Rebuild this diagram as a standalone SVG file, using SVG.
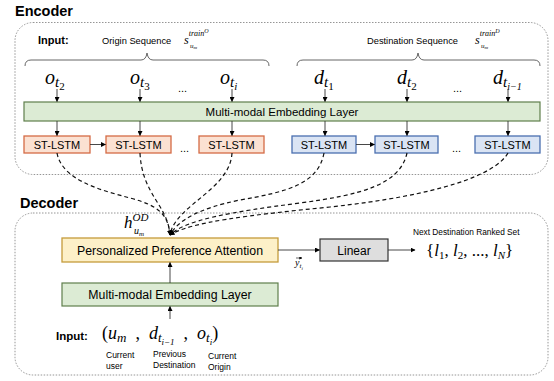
<svg xmlns="http://www.w3.org/2000/svg" width="554" height="381" viewBox="0 0 554 381">
<defs>
<marker id="ah" viewBox="0 0 10 10" refX="9" refY="5" markerWidth="5" markerHeight="5" orient="auto" markerUnits="userSpaceOnUse">
<path d="M0,0 L10,5 L0,10 Z" fill="#000"/>
</marker>
<marker id="vh" viewBox="0 0 10 10" refX="9" refY="5" markerWidth="3" markerHeight="3" orient="auto" markerUnits="userSpaceOnUse">
<path d="M0,0 L10,5 L0,10 Z" fill="#000"/>
</marker>
<style>
.t{font-family:"Liberation Sans",Arial,sans-serif;fill:#000}
.b{font-weight:bold}
.m{font-family:"Liberation Serif","Times New Roman",serif;font-style:italic;fill:#000}
.r{font-family:"Liberation Serif","Times New Roman",serif;font-style:normal;fill:#000}
.frame{fill:none;stroke:#8a8a8a;stroke-width:0.9;stroke-dasharray:1.5,1.5}
.emb{fill:#dcebd4;stroke:#5f7f4c;stroke-width:1.2}
.ol{fill:#fbe1d2;stroke:#d46b45;stroke-width:1.3}
.bl{fill:#dae4f4;stroke:#4a6fb0;stroke-width:1.3}
.att{fill:#fdf0c8;stroke:#c59b3b;stroke-width:1.3}
.lin{fill:#dedede;stroke:#333;stroke-width:1.2}
.ar{fill:none;stroke:#333;stroke-width:0.9;marker-end:url(#ah)}
.dc{fill:none;stroke:#111;stroke-width:1.2;stroke-dasharray:4,3;marker-end:url(#ah)}
.br{fill:none;stroke:#555;stroke-width:0.9}
</style>
</defs>

<text class="t b" x="15" y="16" font-size="14.5">Encoder</text>
<rect class="frame" x="15" y="22.5" width="533" height="152" rx="18"/>
<text class="t b" x="20" y="208" font-size="14.5">Decoder</text>
<rect class="frame" x="15" y="213" width="533" height="162" rx="18"/>

<g id="inputs-enc">
<text class="t b" x="38" y="44" font-size="11">Input:</text>
<text class="t" x="102" y="44" font-size="9.3">Origin Sequence</text>
<text class="m" x="184" y="44" font-size="12">s<tspan font-size="8" dy="-8">train</tspan><tspan font-size="6" dy="-3">O</tspan></text>
<text class="m" x="190" y="48" font-size="7">u<tspan font-size="5" dy="1">m</tspan></text>
<text class="t" x="367" y="44" font-size="9.3">Destination Sequence</text>
<text class="m" x="475" y="44" font-size="12">s<tspan font-size="8" dy="-8">train</tspan><tspan font-size="6" dy="-3">D</tspan></text>
<text class="m" x="481" y="48" font-size="7">u<tspan font-size="5" dy="1">m</tspan></text>
<path class="br" d="M25,66 Q25,60 31,60 L141,60 Q146,60 147,53 Q148,60 153,60 L263,60 Q269,60 269,66"/>
<path class="br" d="M297,66 Q297,60 303,60 L412,60 Q417,60 418,53 Q419,60 424,60 L534,60 Q540,60 540,66"/>
</g>

<g id="vars-enc">
<text class="m" x="45" y="84" font-size="20">o<tspan font-size="15" dy="3">t</tspan><tspan class="r" font-size="11" dy="3">2</tspan></text>
<text class="m" x="130" y="84" font-size="20">o<tspan font-size="15" dy="3">t</tspan><tspan class="r" font-size="11" dy="3">3</tspan></text>
<text class="t" x="178" y="92" font-size="11">...</text>
<text class="m" x="220" y="84" font-size="20">o<tspan font-size="15" dy="3">t</tspan><tspan font-size="11" dy="3">i</tspan></text>
<text class="m" x="314" y="84" font-size="20">d<tspan font-size="15" dy="3">t</tspan><tspan class="r" font-size="11" dy="3">1</tspan></text>
<text class="m" x="397" y="84" font-size="20">d<tspan font-size="15" dy="3">t</tspan><tspan class="r" font-size="11" dy="3">2</tspan></text>
<text class="t" x="453" y="92" font-size="11">...</text>
<text class="m" x="493" y="84" font-size="20">d<tspan font-size="15" dy="3">t</tspan><tspan font-size="10" dy="3">i−1</tspan></text>
</g>

<g id="emb-enc">
<rect class="emb" x="24" y="102" width="516" height="19"/>
<text class="t" x="282" y="116" font-size="11.5" text-anchor="middle">Multi-modal Embedding Layer</text>
</g>

<g id="lstm-o1"><rect class="ol" x="24" y="136" width="66" height="17"/><text class="t" x="57" y="148.5" font-size="11" text-anchor="middle">ST-LSTM</text></g>
<g id="lstm-o2"><rect class="ol" x="106" y="136" width="65" height="17"/><text class="t" x="138.5" y="148.5" font-size="11" text-anchor="middle">ST-LSTM</text></g>
<text class="t" x="180" y="152" font-size="11">...</text>
<g id="lstm-o3"><rect class="ol" x="199" y="136" width="65" height="17"/><text class="t" x="231.5" y="148.5" font-size="11" text-anchor="middle">ST-LSTM</text></g>
<g id="lstm-d1"><rect class="bl" x="292" y="136" width="64" height="17"/><text class="t" x="324" y="148.5" font-size="11" text-anchor="middle">ST-LSTM</text></g>
<g id="lstm-d2"><rect class="bl" x="375" y="136" width="63" height="17"/><text class="t" x="406.5" y="148.5" font-size="11" text-anchor="middle">ST-LSTM</text></g>
<text class="t" x="452" y="152" font-size="11">...</text>
<g id="lstm-d3"><rect class="bl" x="475" y="136" width="65" height="17"/><text class="t" x="507.5" y="148.5" font-size="11" text-anchor="middle">ST-LSTM</text></g>

<g id="attention">
<rect class="att" x="62" y="238" width="216" height="24"/>
<text class="t" x="170" y="254.5" font-size="12.3" text-anchor="middle">Personalized Preference Attention</text>
</g>
<g id="linear">
<rect class="lin" x="320" y="239" width="68" height="22"/>
<text class="t" x="354" y="254.5" font-size="12" text-anchor="middle">Linear</text>
</g>
<g id="output">
<text class="t" x="413" y="235" font-size="8.3">Next Destination Ranked Set</text>
<text class="r" x="426" y="256" font-size="17">{<tspan class="m">l</tspan><tspan font-size="11" dy="3">1</tspan><tspan dy="-3">, </tspan><tspan class="m">l</tspan><tspan font-size="11" dy="3">2</tspan><tspan dy="-3">, ..., </tspan><tspan class="m">l</tspan><tspan class="m" font-size="11" dy="3">N</tspan><tspan dy="-3">}</tspan></text>
</g>
<g id="emb-dec">
<rect class="emb" x="62" y="283" width="216" height="23"/>
<text class="t" x="170" y="299" font-size="12.3" text-anchor="middle">Multi-modal Embedding Layer</text>
</g>
<g id="inputs-dec">
<text class="t b" x="56" y="340" font-size="11.5">Input:</text>
<text class="r" x="102" y="339" font-size="18">(<tspan class="m">u</tspan><tspan class="m" font-size="13" dy="3">m</tspan><tspan dy="-3" xml:space="preserve">  ,  </tspan><tspan class="m">d</tspan><tspan class="m" font-size="13" dy="3">t</tspan><tspan class="m" font-size="9" dy="3">i−1</tspan><tspan dy="-6" xml:space="preserve">  ,  </tspan><tspan class="m">o</tspan><tspan class="m" font-size="13" dy="3">t</tspan><tspan class="m" font-size="9" dy="3">i</tspan><tspan dy="-6">)</tspan></text>
<text class="t" x="106" y="358" font-size="8.5">Current</text>
<text class="t" x="106" y="369" font-size="8.5">user</text>
<text class="t" x="153" y="357" font-size="8.5">Previous</text>
<text class="t" x="153" y="368" font-size="8.5">Destination</text>
<text class="t" x="208" y="359" font-size="8.5">Current</text>
<text class="t" x="208" y="370" font-size="8.5">Origin</text>
<text class="m" x="124" y="228" font-size="17">h<tspan font-size="11" dy="-7">OD</tspan></text>
<text class="m" x="134" y="234" font-size="10">u<tspan font-size="7" dy="1.5">m</tspan></text>
<text class="m" x="295" y="266" font-size="10">y<tspan font-size="7" dy="2">t</tspan><tspan font-size="5" dy="1.5">i</tspan></text>
<line x1="296" y1="258" x2="302" y2="258" stroke="#000" stroke-width="0.6" marker-end="url(#vh)"/>
</g>

<g id="connectors">
<line class="ar" x1="57" y1="89" x2="57" y2="101.5"/>
<line class="ar" x1="140" y1="89" x2="140" y2="101.5"/>
<line class="ar" x1="232" y1="89" x2="232" y2="101.5"/>
<line class="ar" x1="325" y1="89" x2="325" y2="101.5"/>
<line class="ar" x1="407" y1="89" x2="407" y2="101.5"/>
<line class="ar" x1="508" y1="89" x2="508" y2="101.5"/>
<line class="ar" x1="57" y1="121" x2="57" y2="135.5"/>
<line class="ar" x1="140" y1="121" x2="140" y2="135.5"/>
<line class="ar" x1="232" y1="121" x2="232" y2="135.5"/>
<line class="ar" x1="325" y1="121" x2="325" y2="135.5"/>
<line class="ar" x1="407" y1="121" x2="407" y2="135.5"/>
<line class="ar" x1="508" y1="121" x2="508" y2="135.5"/>
<line class="ar" x1="90" y1="144.5" x2="105.5" y2="144.5"/>
<line class="ar" x1="356" y1="144.5" x2="374.5" y2="144.5"/>
<path class="dc" d="M57,153 C62,180 100,190 130,198 C160,206 168,215 170,235"/>
<path class="dc" d="M140,153 C142,195 168,205 170,235"/>
<path class="dc" d="M232,153 C230,190 175,205 170,235"/>
<path class="dc" d="M324,153 C318,185 285,192 240,200 C200,208 178,220 170,235"/>
<path class="dc" d="M407,153 C400,185 360,195 300,203 C230,212 185,220 170,235"/>
<path class="dc" d="M508,153 C495,175 440,195 330,207 C250,215 190,222 170,235"/>
<line class="ar" x1="278" y1="250" x2="319.5" y2="250"/>
<line class="ar" x1="388" y1="250" x2="415" y2="250"/>
<line class="ar" x1="170" y1="283" x2="170" y2="262.5"/>
<line class="ar" x1="170" y1="319" x2="170" y2="306.5"/>
</g>
</svg>
